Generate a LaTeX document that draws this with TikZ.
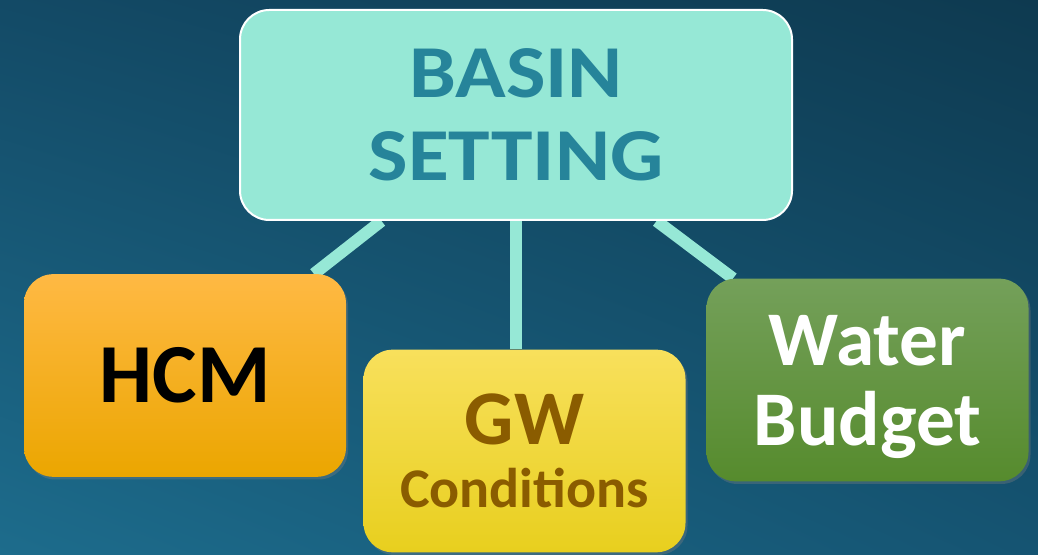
\documentclass[tikz,border=0pt]{standalone}
\usepackage{fontspec}
\setmainfont{Carlito}
\newfontfamily\widefont{Carlito}[FakeStretch=1.12]
\usepackage{xcolor}
\usetikzlibrary{shadows, shadings, backgrounds}
\definecolor{bgtl}{HTML}{134A66}
\definecolor{bgtr}{HTML}{0E3A50}
\definecolor{bgbl}{HTML}{1D6C8C}
\definecolor{bgbr}{HTML}{155472}
\definecolor{mint}{HTML}{96E8D6}
\definecolor{minttext}{HTML}{26849A}
\definecolor{gwtext}{HTML}{8A5C00}
\definecolor{orgtop}{HTML}{FFB944}
\definecolor{orgmid}{HTML}{FFB416}
\definecolor{orgbot}{HTML}{EBA600}
\definecolor{yeltop}{HTML}{F8E05C}
\definecolor{yelmid}{HTML}{FDE62E}
\definecolor{yelbot}{HTML}{E8CF1E}
\definecolor{grntop}{HTML}{74A05A}
\definecolor{grnmid}{HTML}{619540}
\definecolor{grnbot}{HTML}{568B2D}

\begin{document}
\begin{tikzpicture}[
  x=0.75pt, y=0.75pt,
  box/.style={rounded corners=22pt, align=center, inner sep=0pt,
              minimum width=241.5pt, minimum height=152pt,
              drop shadow={shadow xshift=1.5pt, shadow yshift=-2pt, opacity=0.35}},
  sb/.style={rounded corners=22pt, align=center, inner sep=0pt,
             minimum width=414pt, minimum height=157.5pt,
             fill=mint, draw=white, line width=1.5pt, text=minttext,
             font=\widefont\fontsize{56}{62}\selectfont\bfseries},
  ob/.style={box, top color=orgtop, middle color=orgmid, bottom color=orgbot,
             font=\fontsize{63}{70}\selectfont\bfseries},
  yb/.style={box, top color=yeltop, middle color=yelmid, bottom color=yelbot,
             text=gwtext, font=\fontsize{58}{47}\selectfont\bfseries},
  gb/.style={box, top color=grntop, middle color=grnmid, bottom color=grnbot,
             text=white, font=\fontsize{58}{60}\selectfont\bfseries},
  conn/.style={draw=mint, line width=9pt}
]

% ---------- boxes ----------
\node[sb] (basin) at (516,440) {BASIN\\SETTING};
\node[ob] (hcm) at (185,179.5) {HCM};
\node[yb] (gw) at (524.5,104) {GW\\{\fontsize{42}{47}\selectfont Conditions}};
\node[gb, text depth=0pt] (water) at (867.5,175) {Water\\Budget};

% ---------- background + links ----------
\begin{scope}[on background layer]
\shade[upper left=bgtl, upper right=bgtr, lower left=bgbl, lower right=bgbr]
  (0,0) rectangle (1038,555);
\draw[conn] (basin) -- (hcm);
\draw[conn] (basin) -- (water);
\draw[conn] (basin.south) -- (basin.south |- gw.north);
\end{scope}

\useasboundingbox (0,0) rectangle (1038,555);
\end{tikzpicture}
\end{document}
